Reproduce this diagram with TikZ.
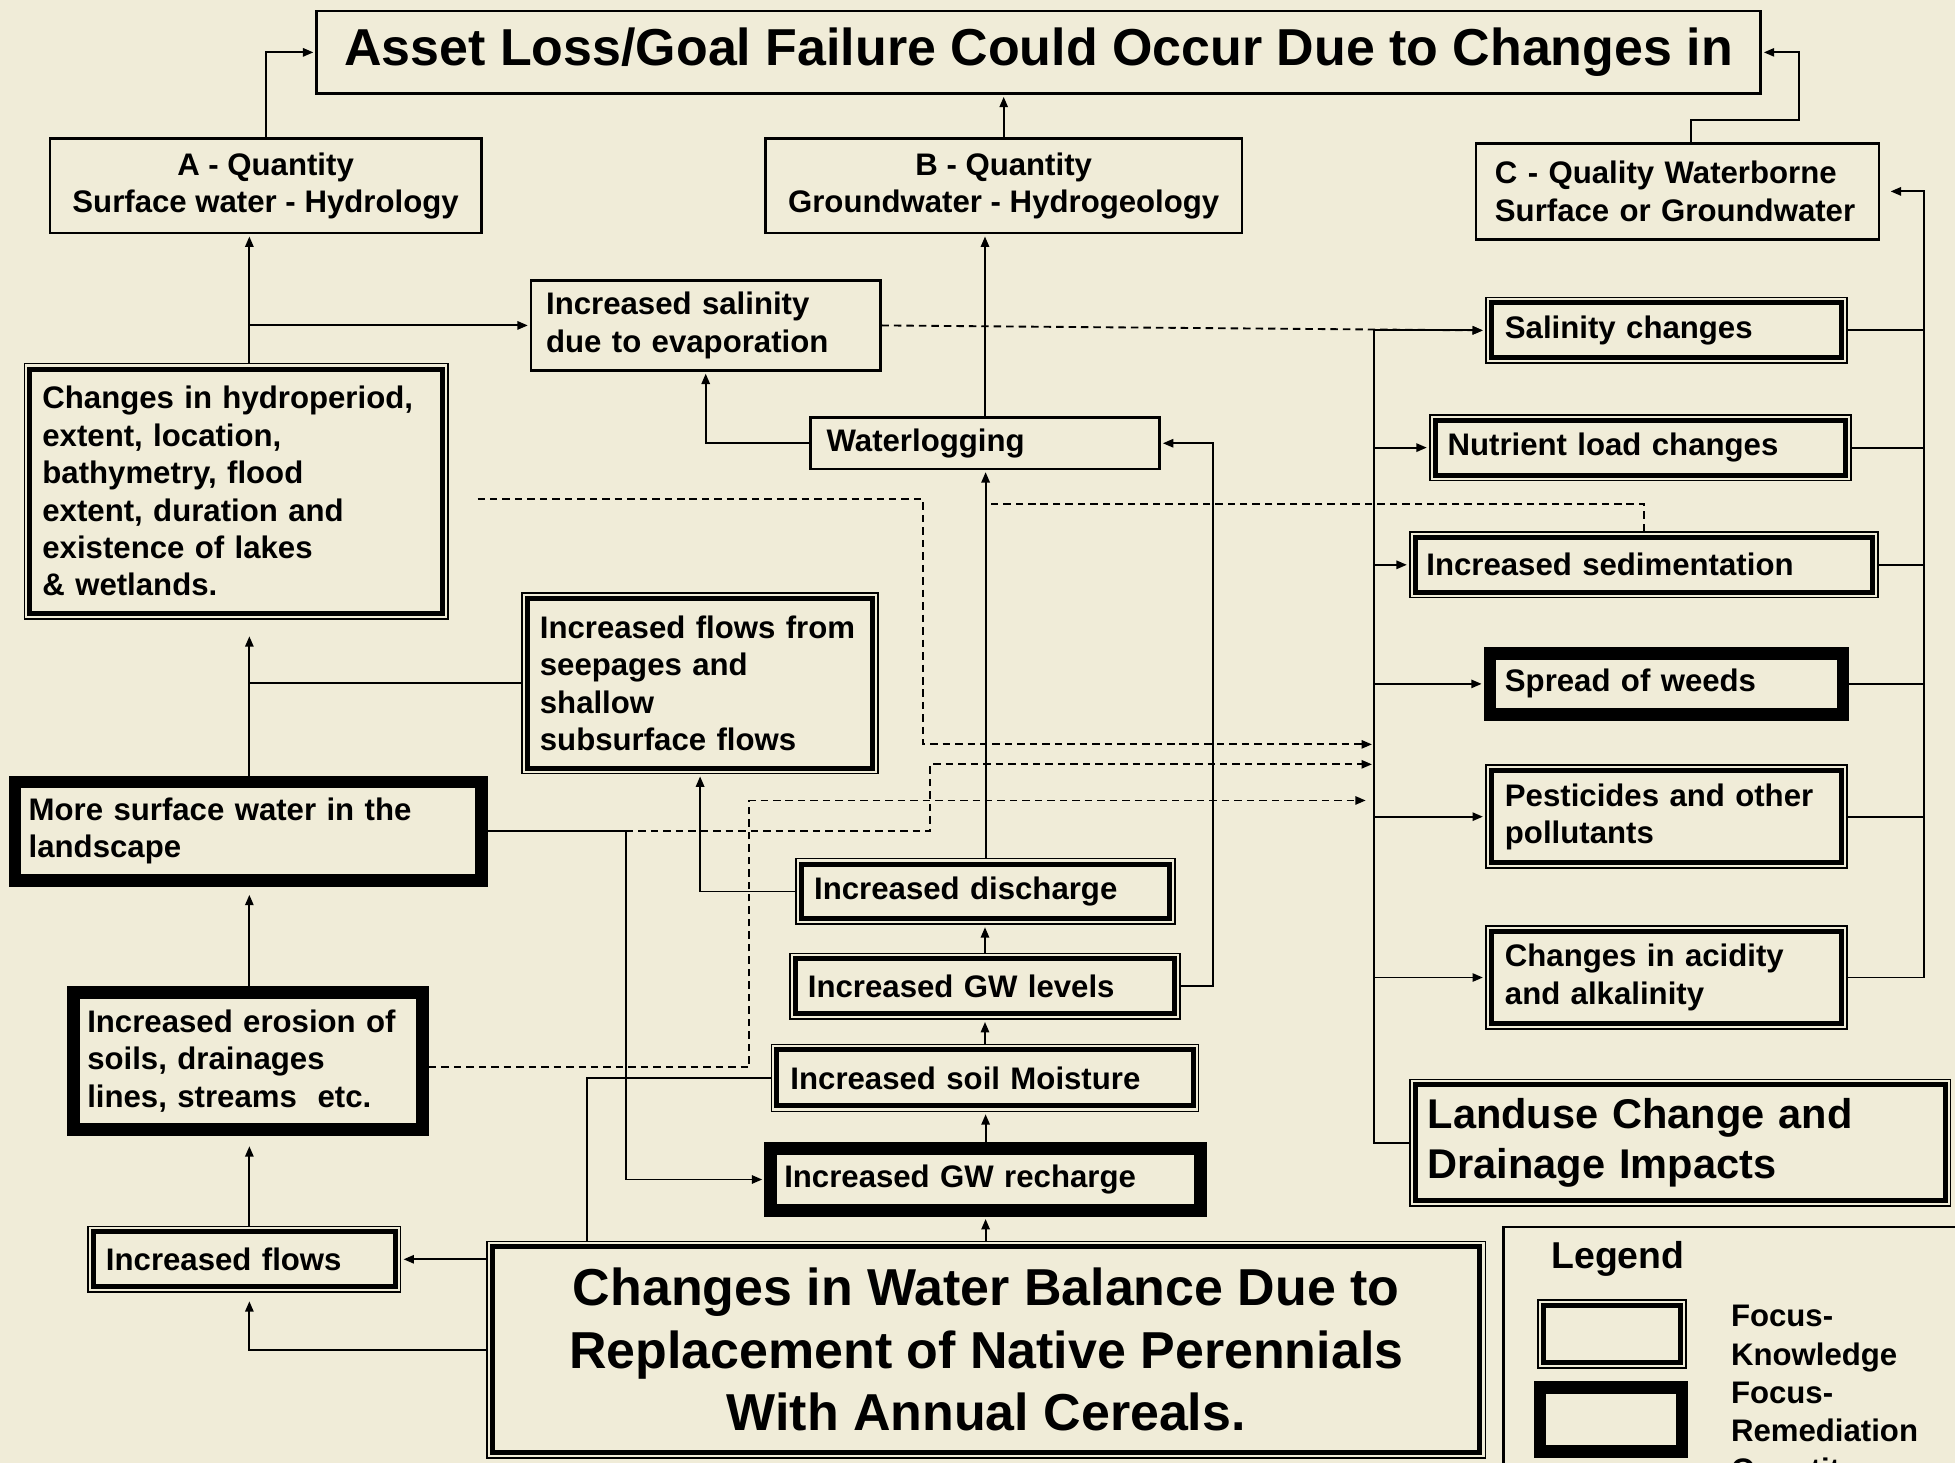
\documentclass[tikz,border=0pt]{standalone}
\usepackage{fontspec}
\setmainfont{Liberation Sans}
\usepackage{tikz}
\usepackage{xcolor}
\usetikzlibrary{arrows.meta,calc}

\definecolor{bgcream}{RGB}{240,236,216}
\newcommand{\px}{0.6pt}
\newcommand{\bodyfont}{\fontsize{15}{18}\selectfont\bfseries}

\tikzset{
  plainbox/.style={draw, line width=1.2pt, fill=bgcream, inner sep=2pt, font=\bodyfont},
  knowbox/.style={draw, line width=2.4pt, fill=bgcream, inner sep=2pt, outer sep=3pt, font=\bodyfont,
    preaction={draw, line width=6pt},
    preaction={draw=bgcream, line width=4.4pt}},
  remedbox/.style={draw, line width=6pt, fill=bgcream, inner sep=2pt, outer sep=3pt, font=\bodyfont},
  boxsize/.style 2 args={minimum width=#1*\px, minimum height=#2*\px},
  lefttext/.style={text width=#1*\px, align=left},
  conn/.style={line width=0.9pt, -{Triangle[length=5pt,width=4pt]}, shorten >=1pt},
  link/.style={line width=0.9pt},
  dconn/.style={conn, dash pattern=on 3.6pt off 2.4pt},
  dlink/.style={link, dash pattern=on 3.6pt off 2.4pt},
}

\begin{document}
\begin{tikzpicture}[x=0.6pt,y=0.6pt,yscale=-1,xscale=1]
%set diagram left start at 0, and has height of 1173
\useasboundingbox (0,0) rectangle (1568,1173);
\fill[bgcream] (0,0) rectangle (1568,1173);

%Shape: Rectangle [title]
\node[plainbox, boxsize={1158}{66}, font=\fontsize{25}{30}\selectfont\bfseries] (title) at (833,42) {Asset Loss/Goal Failure Could Occur Due to Changes in};
%Shape: Rectangle [A, B, C]
\node[plainbox, boxsize={346}{76}, align=center] (qtyA) at (213,149) {A - Quantity\\Surface water - Hydrology};
\node[plainbox, boxsize={382}{76}, align=center] (qtyB) at (805,149) {B - Quantity\\Groundwater - Hydrogeology};
\node[plainbox, boxsize={323}{77}, lefttext=293] (qualC) at (1345.5,153.5) {C - Quality Waterborne\\Surface or Groundwater};

% Text Node
\node[plainbox, boxsize={280}{72}, lefttext=256] (evap) at (566,261) {Increased salinity\\due to evaporation};
\node[plainbox, boxsize={280}{41}, lefttext=254] (waterlog) at (790,355.5) {Waterlogging};
\node[knowbox, boxsize={331}{196}, lefttext=311] (hydro) at (189.5,394) {Changes in hydroperiod,\\extent, location,\\bathymetry, flood\\extent, duration and\\existence of lakes\\\& wetlands.};
\node[knowbox, boxsize={277}{136}, lefttext=257] (seepage) at (561.5,548) {Increased flows from\\seepages and\\shallow\\subsurface flows};
\node[remedbox, boxsize={374}{79}, lefttext=352] (moresw) at (199,666.5) {More surface water in the\\landscape};
\node[remedbox, boxsize={280}{110}, lefttext=258] (erosion) at (199,851) {Increased erosion of\\soils, drainages\\lines, streams\ \ etc.};
\node[knowbox, boxsize={242}{44}, lefttext=222] (flows) at (196,1010) {Increased flows};

% Text Node [groundwater column]
\node[knowbox, boxsize={295}{44}, lefttext=275] (discharge) at (790.5,715) {Increased discharge};
\node[knowbox, boxsize={304}{44}, lefttext=284] (gwlevel) at (790,791) {Increased GW levels};
\node[knowbox, boxsize={334}{45}, lefttext=312] (soilmoist) at (790,864.5) {Increased soil Moisture};
\node[remedbox, boxsize={345}{50}, lefttext=323] (recharge) at (790.5,946) {Increased GW recharge};
\node[knowbox, boxsize={792}{165}, align=center, font=\fontsize{25}{30}\selectfont\bfseries] (balance) at (791,1082.5) {Changes in Water Balance Due to\\Replacement of Native Perennials\\With Annual Cereals.};

% Text Node [quality column]
\node[knowbox, boxsize={281}{44}, lefttext=259] (saltchg) at (1336.5,265) {Salinity changes};
\node[knowbox, boxsize={329}{44}, lefttext=309] (nutrient) at (1315.5,359) {Nutrient load changes};
\node[knowbox, boxsize={367}{44}, lefttext=349] (sediment) at (1318.5,453) {Increased sedimentation};
\node[remedbox, boxsize={283}{49}, lefttext=259] (weeds) at (1336.5,548.5) {Spread of weeds};
\node[knowbox, boxsize={281}{74}, lefttext=259] (pestic) at (1336.5,655) {Pesticides and other\\pollutants};
\node[knowbox, boxsize={281}{74}, lefttext=259] (acidity) at (1336.5,784) {Changes in acidity\\and alkalinity};
\node[knowbox, boxsize={425}{93}, lefttext=405, font=\fontsize{20}{24}\selectfont\bfseries] (landuse) at (1347.5,916.5) {Landuse Change and\\Drainage Impacts};

%Shape: Rectangle [legend]
\node[plainbox, boxsize={388}{232}] (legendbox) at (1400,1100) {};
\node[anchor=base west, inner sep=0pt, font=\fontsize{18}{22}\selectfont\bfseries] (legtitle) at (1244,1017) {Legend};
\node[knowbox, boxsize={110}{46}] (legknow) at (1293,1070) {};
\node[remedbox, boxsize={114}{51}] (legremed) at (1292,1138.5) {};
\node[anchor=base west, inner sep=0pt, text width=200*\px, align=left, font=\fontsize{15}{18.5}\selectfont\bfseries] (legtext) at (1388,1064) {Focus-\\Knowledge\\Focus-\\Remediation\\Quantity};

\coordinate (colL) at (200,0);
\coordinate (busL) at (1102,0);
\coordinate (busR) at (1543,0);
\coordinate (cBend) at (1443,96);
\coordinate (jSoil) at (471,0);
\coordinate (jMore) at (502,0);
\coordinate (dHydro) at (740,597);
\coordinate (dMore) at (746,613);
\coordinate (dEro) at (601,642);
\coordinate (dSed) at (790.5,404);

%Straight Lines [top]
\draw[conn] (qtyA.north) |- (title.west);
\draw[conn] (qtyB.north) -- (qtyB.north |- title.south);
\draw[conn] ([xshift=6.3pt]qualC.north) |- (cBend) |- (title.east);

%Straight Lines [left column]
\draw[conn] (hydro.north -| colL) -- (qtyA.south -| colL);
\draw[conn] (colL |- evap.west) -- (evap.west);
\draw[link] (seepage.west) -- (seepage.west -| colL);
\draw[conn, shorten >=8pt] (moresw.north -| colL) -- (hydro.south -| colL);
\draw[conn, shorten >=4pt] (erosion.north -| colL) -- (moresw.south -| colL);
\draw[conn, shorten >=5pt] (flows.north -| colL) -- (erosion.south -| colL);
\draw[conn] (balance.west |- flows.east) -- (flows.east);
\draw[conn, shorten >=4pt] (balance.west) -| (flows.south -| colL);

%Straight Lines [middle column]
\draw[conn] (waterlog.west) -| (evap.south);
\draw[conn] (waterlog.north) -- (waterlog.north |- qtyB.south);
\draw[conn] (discharge.north) -- (discharge.north |- waterlog.south);
\draw[conn] (gwlevel.north) -- (gwlevel.north |- discharge.south);
\draw[conn] (soilmoist.north) -- (soilmoist.north |- gwlevel.south);
\draw[conn] (recharge.north) -- (recharge.north |- soilmoist.south);
\draw[conn] (balance.north -| recharge.south) -- (recharge.south);
\draw[conn] (gwlevel.east) -- ++(26,0) |- (waterlog.east);
\draw[conn] (discharge.west) -| (seepage.south);
\draw[link] (soilmoist.west) -| (jSoil |- balance.north);
\draw[conn] (moresw.east) -| (jMore |- recharge.west) -- (recharge.west);

%Dashed Lines
\draw[dconn] ($(hydro.east)+(23,6)$) -| (dHydro) -- (busL |- dHydro);
\draw[dconn] (jMore |- moresw.east) -| (dMore) -- (busL |- dMore);
\draw[dconn] ($(erosion.east)+(0,5)$) -| (dEro) -- ([xshift=-3pt]busL |- dEro);
\draw[dlink] (sediment.north) |- (dSed);
\draw[dconn] (evap.east) -- (saltchg.west);

%Straight Lines [buses]
\draw[conn] (landuse.west) -| (busL |- saltchg.west) -- (saltchg.west);
\foreach \n in {nutrient,sediment,weeds,pestic,acidity}
  \draw[conn] (busL |- \n.west) -- (\n.west);
\draw[conn, shorten >=5pt] (acidity.east) -| (busR |- qualC.east) -- (qualC.east);
\foreach \n in {saltchg,nutrient,sediment,weeds,pestic}
  \draw[link] (\n.east) -- (busR |- \n.east);

\end{tikzpicture}
\end{document}
